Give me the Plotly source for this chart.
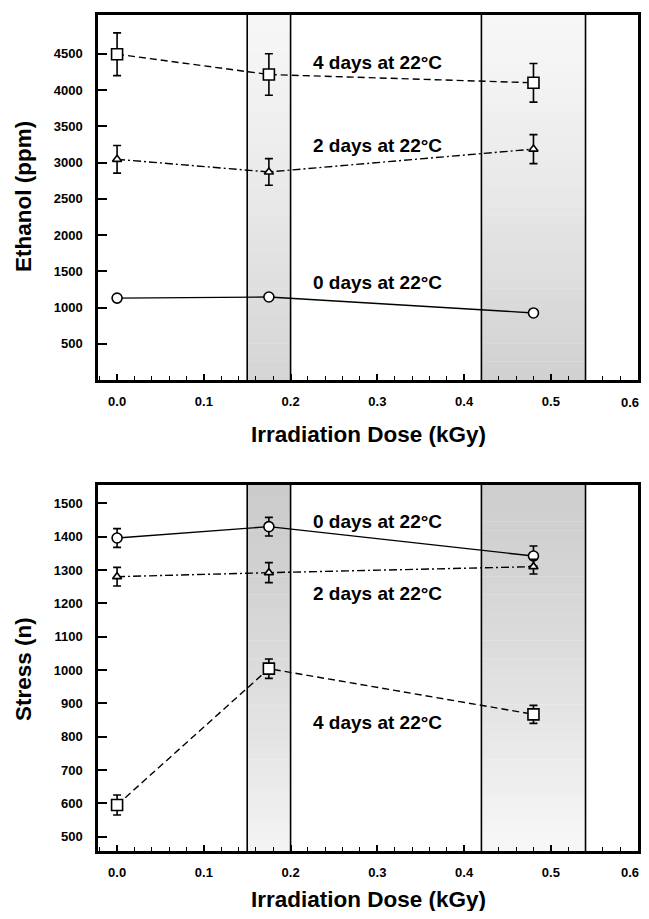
import plotly.graph_objects as go

# ---------------- data ----------------
dose = [0.0, 0.175, 0.48]

ethanol_0d = [1130, 1145, 925]
ethanol_0d_err = [0, 0, 0]
ethanol_2d = [3044, 2870, 3185]
ethanol_2d_err = [190, 184, 200]
ethanol_4d = [4494, 4214, 4100]
ethanol_4d_err = [295, 286, 267]

stress_0d = [1396, 1430, 1342]
stress_0d_err = [28, 28, 30]
stress_2d = [1280, 1292, 1310]
stress_2d_err = [28, 30, 22]
stress_4d = [595, 1004, 867]
stress_4d_err = [30, 29, 27]

bands = [(0.15, 0.20), (0.42, 0.54)]
x_ticks = [0.0, 0.1, 0.2, 0.3, 0.4, 0.5, 0.6]
ethanol_ticks = [500, 1000, 1500, 2000, 2500, 3000, 3500, 4000, 4500]
stress_ticks = [500, 600, 700, 800, 900, 1000, 1100, 1200, 1300, 1400, 1500]
series_labels = ["0 days at 22°C", "2 days at 22°C", "4 days at 22°C"]

# ---------------- layout helpers ----------------
# page body has an 8px default margin on every side: size the figure so the
# whole page fits the 649x919 window exactly
OFF = 8
WIN_W, WIN_H = 649, 919
W, H = WIN_W - 2 * OFF, WIN_H - 2 * OFF
FONT = "Liberation Sans"


def px_x(px):
    return (px - OFF) / W


def px_y(py):
    return 1 - (py - OFF) / H


def xdom(l, r):
    return [px_x(l), px_x(r)]


def ydom(top, bottom):
    return [px_y(bottom), px_y(top)]


fig = go.Figure()

styles = [
    dict(dash="solid", symbol="circle", size=10),
    dict(dash="8px,3px,2px,3px", symbol="triangle-up", size=8),
    dict(dash="7px,4px", symbol="square", size=11),
]


def add_series(xa, ya, ys, errs):
    for st, y, e in zip(styles, ys, errs):
        fig.add_trace(go.Scatter(
            x=dose, y=y, xaxis=xa, yaxis=ya, mode="lines+markers",
            line=dict(color="black", width=1.4, dash=st["dash"]),
            marker=dict(symbol=st["symbol"], size=st["size"],
                        color="white", line=dict(color="black", width=1.6)),
            error_y=dict(type="data", array=e, visible=any(v > 0 for v in e),
                         color="black", thickness=1.6, width=4),
            showlegend=False, cliponaxis=False,
        ))


add_series("x", "y", [ethanol_0d, ethanol_2d, ethanol_4d],
           [ethanol_0d_err, ethanol_2d_err, ethanol_4d_err])
add_series("x2", "y2", [stress_0d, stress_2d, stress_4d],
           [stress_0d_err, stress_2d_err, stress_4d_err])

tickfont = dict(family=FONT, size=13, color="black", weight="bold")
titlefont = dict(family=FONT, size=22.5, color="black", weight="bold")

xcommon = dict(range=[-0.022, 0.6005], tickvals=x_ticks, tickformat=".1f",
               ticks="inside", ticklen=6, tickwidth=1.5, tickcolor="black",
               minor=dict(ticks="inside", dtick=0.02, tick0=0, ticklen=4,
                          tickwidth=1.2, tickcolor="black"),
               showline=True, linewidth=2.5, linecolor="black", mirror=True,
               showgrid=False, zeroline=False, tickfont=tickfont,
               ticklabelstandoff=8)
ycommon = dict(ticks="inside", ticklen=9, tickwidth=1.5, tickcolor="black",
               showline=True, linewidth=2.5, linecolor="black", mirror=True,
               showgrid=False, zeroline=False, tickfont=tickfont,
               ticklabelstandoff=10)

fig.update_layout(
    width=W, height=H, margin=dict(l=0, r=0, t=0, b=0),
    paper_bgcolor="white", plot_bgcolor="white",
    xaxis=dict(domain=xdom(98, 638), anchor="y", **xcommon),
    yaxis=dict(domain=ydom(15, 380), anchor="x", range=[0, 5035],
               tickvals=ethanol_ticks, **ycommon),
    xaxis2=dict(domain=xdom(98, 638), anchor="y2", **xcommon),
    yaxis2=dict(domain=ydom(485, 851), anchor="x2", range=[457, 1555],
                tickvals=stress_ticks, **ycommon),
)

# ---------------- shaded bands with vertical gradient ----------------
def lerp_gray(a, b, t):
    v = round(a + (b - a) * t)
    return f"rgb({v},{v},{v})"


N = 40
band_grad = {
    "y": [(246, 212), (247, 208)],   # top plot: light at top, darker at bottom
    "y2": [(203, 244), (206, 248)],  # bottom plot: darker at top, light at bottom
}
for xa, ya in (("x", "y"), ("x2", "y2")):
    for (x0, x1), (ctop, cbot) in zip(bands, band_grad[ya]):
        for i in range(N):
            t_top = 1 - i / N
            t_bot = 1 - (i + 1) / N
            frac = (i + 0.5) / N
            fig.add_shape(type="rect", xref=xa, yref=f"{ya} domain",
                          x0=x0, x1=x1, y0=t_bot, y1=t_top + 0.001,
                          fillcolor=lerp_gray(ctop, cbot, frac ** 1.3),
                          line=dict(width=0), layer="below")
        for xv in (x0, x1):
            fig.add_shape(type="line", xref=xa, yref=f"{ya} domain",
                          x0=xv, x1=xv, y0=0, y1=1,
                          line=dict(color="black", width=1.6), layer="above")

# the last x tick label sits on the page edge; plotly hides it, so draw it
# right-aligned at the axis end so it stays inside the page
for xa, row_px in (("x", 402), ("x2", 872)):
    fig.add_annotation(x=x_ticks[-1], xref=xa, y=px_y(row_px), yref="paper",
                       text=f"{x_ticks[-1]:.1f}", showarrow=False,
                       xanchor="right", yanchor="middle", xshift=3,
                       font=tickfont)

# ---------------- labels ----------------
labfont = dict(family=FONT, size=19, color="black", weight="bold")
top_label_pos = [1342, 3233, 4380]
bot_label_pos = [1447, 1231, 842]
for lab, yv in zip(series_labels, top_label_pos):
    fig.add_annotation(x=0.30, y=yv, xref="x", yref="y", text=lab,
                       showarrow=False, font=labfont)
for lab, yv in zip(series_labels, bot_label_pos):
    fig.add_annotation(x=0.30, y=yv, xref="x2", yref="y2", text=lab,
                       showarrow=False, font=labfont)

# axis titles
common_ann = dict(xref="paper", yref="paper", showarrow=False, font=titlefont,
                  xanchor="center", yanchor="middle")
fig.add_annotation(x=px_x(368), y=px_y(435), text="Irradiation Dose (kGy)",
                   **common_ann)
fig.add_annotation(x=px_x(368), y=px_y(899), text="Irradiation Dose (kGy)",
                   **common_ann)
fig.add_annotation(x=px_x(23), y=px_y(197), text="Ethanol (ppm)",
                   textangle=-90, **common_ann)
fig.add_annotation(x=px_x(23), y=px_y(669), text="Stress (n)",
                   textangle=-90, **common_ann)

fig.write_html("out.html")
